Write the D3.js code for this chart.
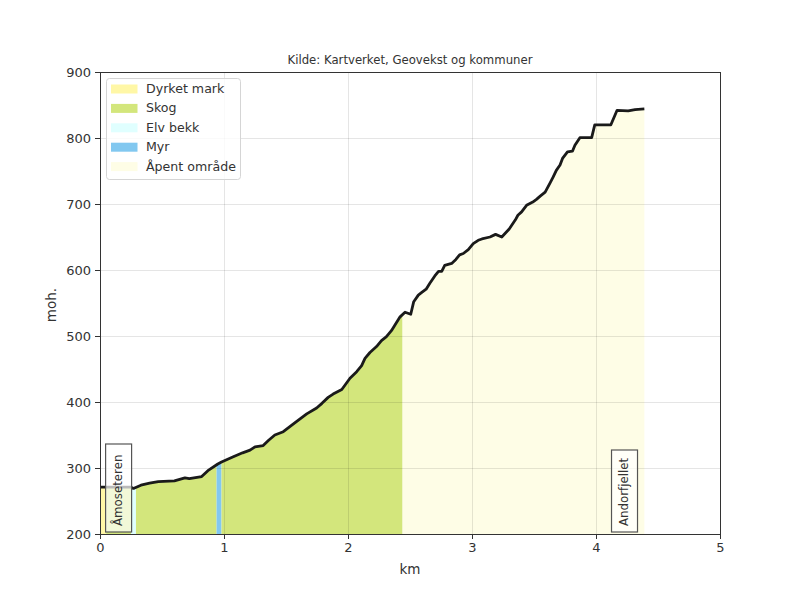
<!DOCTYPE html>
<html><head><meta charset="utf-8">
<script src="https://cdn.jsdelivr.net/npm/d3@7"></script>
<style>html,body{margin:0;padding:0;background:#fff}svg{display:block}text{font-family:"DejaVu Sans",sans-serif;fill:#333}</style>
</head><body><svg id="c" width="800" height="600"></svg>
<script>
const title = "Kilde: Kartverket, Geovekst og kommuner";
const xLabel = "km", yLabel = "moh.";
const xTicks = [0,1,2,3,4,5];
const yTicks = [200,300,400,500,600,700,800,900];
const distKm = [0,0.25,0.27,0.33,0.4,0.47,0.6,0.685,0.72,0.82,0.87,0.95,0.98,1.075,1.15,1.21,1.25,1.316,1.36,1.41,1.478,1.56,1.667,1.747,1.79,1.84,1.88,1.95,2.016,2.07,2.11,2.137,2.177,2.23,2.27,2.31,2.35,2.38,2.42,2.46,2.506,2.53,2.567,2.595,2.63,2.66,2.70,2.73,2.756,2.78,2.836,2.87,2.90,2.93,2.97,3.01,3.05,3.08,3.145,3.19,3.24,3.30,3.35,3.37,3.40,3.44,3.49,3.52,3.55,3.59,3.63,3.655,3.68,3.71,3.73,3.77,3.81,3.83,3.87,3.965,3.99,4.12,4.17,4.26,4.315,4.39];
const elev = [271,271,269,274,277,279.5,280.5,285,284,287,296,306,309,317,323,327,332,334,342,350,355,367,382,391,398,407,412,419,436,446,455,466,475,484,493,499,508,517,529,536,533,552,562,566,571,580,591,598,598,607,610,616,623,625,631,640,645,647,650,654,650,662,676,683,688,698,703,707,712,718,732,741,751,759,769,779,780,789,800.5,800.5,820,820,842,841,843,844];
const areaNames = ["Dyrket mark","Skog","Elv bekk","Myr","Åpent område"];
const areaColors = ["#fff7a6","#d3e67c","#e0ffff","#82c8f0","#fefde6"];
const spanName = ["Dyrket mark","Skog","Elv bekk","Skog","Myr","Skog","Åpent område"];
const spanStart = [0,0.05,0.25,0.29,0.94,0.98,2.44];
const spanEnd = [0.05,0.25,0.29,0.94,0.98,2.44,4.39];
const places = ["Åmoseteren","Andorfjellet"];
const placeKm = [0.15,4.23];

const m={l:100,r:720,t:72,b:534};
const svg=d3.select("#c");
const x=d3.scaleLinear().domain([0,5]).range([m.l,m.r]);
const y=d3.scaleLinear().domain([200,900]).range([m.b,m.t]);
const pts=distKm.map((d,i)=>[d,elev[i]]);
const color=d3.scaleOrdinal(areaNames,areaColors);

const interp=k=>{const i=d3.bisector(p=>p[0]).right(pts,k);if(i<=0)return pts[0][1];if(i>=pts.length)return pts[pts.length-1][1];const a=pts[i-1],b=pts[i];return a[1]+(b[1]-a[1])*(k-a[0])/(b[0]-a[0]);};
const area=d3.area().x(p=>x(p[0])).y0(y(200)).y1(p=>y(p[1]));
spanName.forEach((n,i)=>{
  const a=spanStart[i],b=spanEnd[i];
  const seg=[[a,interp(a)],...pts.filter(p=>p[0]>a&&p[0]<b),[b,interp(b)]];
  svg.append("path").attr("d",area(seg)).attr("fill",color(n));
});

const grid=svg.append("g").attr("stroke","#000").attr("stroke-opacity",0.1).attr("stroke-width",1).attr("shape-rendering","crispEdges");
xTicks.slice(1,-1).forEach(t=>grid.append("line").attr("x1",x(t)).attr("x2",x(t)).attr("y1",m.t).attr("y2",m.b));
yTicks.slice(1,-1).forEach(t=>grid.append("line").attr("x1",m.l).attr("x2",m.r).attr("y1",y(t)).attr("y2",y(t)));

svg.append("path").attr("d",d3.line().x(p=>x(p[0])).y(p=>y(p[1]))(pts)).attr("fill","none").attr("stroke","#1a1a1a").attr("stroke-width",2.8).attr("stroke-linejoin","round");

const xAxis=d3.axisBottom(x).tickValues(xTicks).tickSize(5).tickPadding(4).tickFormat(d3.format("d"));
const yAxis=d3.axisLeft(y).tickValues(yTicks).tickSize(5).tickPadding(4).tickFormat(d3.format("d"));
const gx=svg.append("g").attr("transform",`translate(0,${m.b})`).call(xAxis);
const gy=svg.append("g").attr("transform",`translate(${m.l},0)`).call(yAxis);
[gx,gy].forEach(g=>{g.select(".domain").remove();g.selectAll("line").attr("stroke","#333");g.selectAll("text").attr("font-size",13).attr("font-family","DejaVu Sans").attr("fill","#333");});
svg.append("rect").attr("x",m.l).attr("y",m.t).attr("width",m.r-m.l).attr("height",m.b-m.t).attr("fill","none").attr("stroke","#333").attr("stroke-width",1).attr("shape-rendering","crispEdges");

svg.append("text").attr("x",410).attr("y",64).attr("text-anchor","middle").attr("font-size",11.7).text(title);
svg.append("text").attr("x",410).attr("y",574).attr("text-anchor","middle").attr("font-size",13.5).text(xLabel);
svg.append("text").attr("transform","translate(56,305) rotate(-90)").attr("text-anchor","middle").attr("font-size",13.5).text(yLabel);

const lg=svg.append("g");
lg.append("rect").attr("x",106.5).attr("y",78.5).attr("width",134).attr("height",101).attr("rx",3).attr("fill","#fff").attr("fill-opacity",0.8).attr("stroke","#d5d5d5");
areaNames.forEach((n,i)=>{
  const cy=89+i*19.4;
  lg.append("rect").attr("x",111).attr("y",cy-4.5).attr("width",26.5).attr("height",9).attr("fill",color(n));
  lg.append("text").attr("x",146).attr("y",cy+4).attr("font-size",12.6).text(n);
});

places.forEach((n,i)=>{
  const g=svg.append("g");
  const px=x(placeKm[i]);
  const h=i===0?88:82;
  const top=m.b-2-h;
  g.append("rect").attr("x",px-13).attr("y",top).attr("width",26).attr("height",h).attr("fill","#fff").attr("fill-opacity",0.7).attr("stroke","#555").attr("stroke-width",1.2);
  g.append("text").attr("transform",`translate(${px+3},${m.b-8}) rotate(-90)`).attr("font-size",11.8).text(n);
});
</script></body></html>
